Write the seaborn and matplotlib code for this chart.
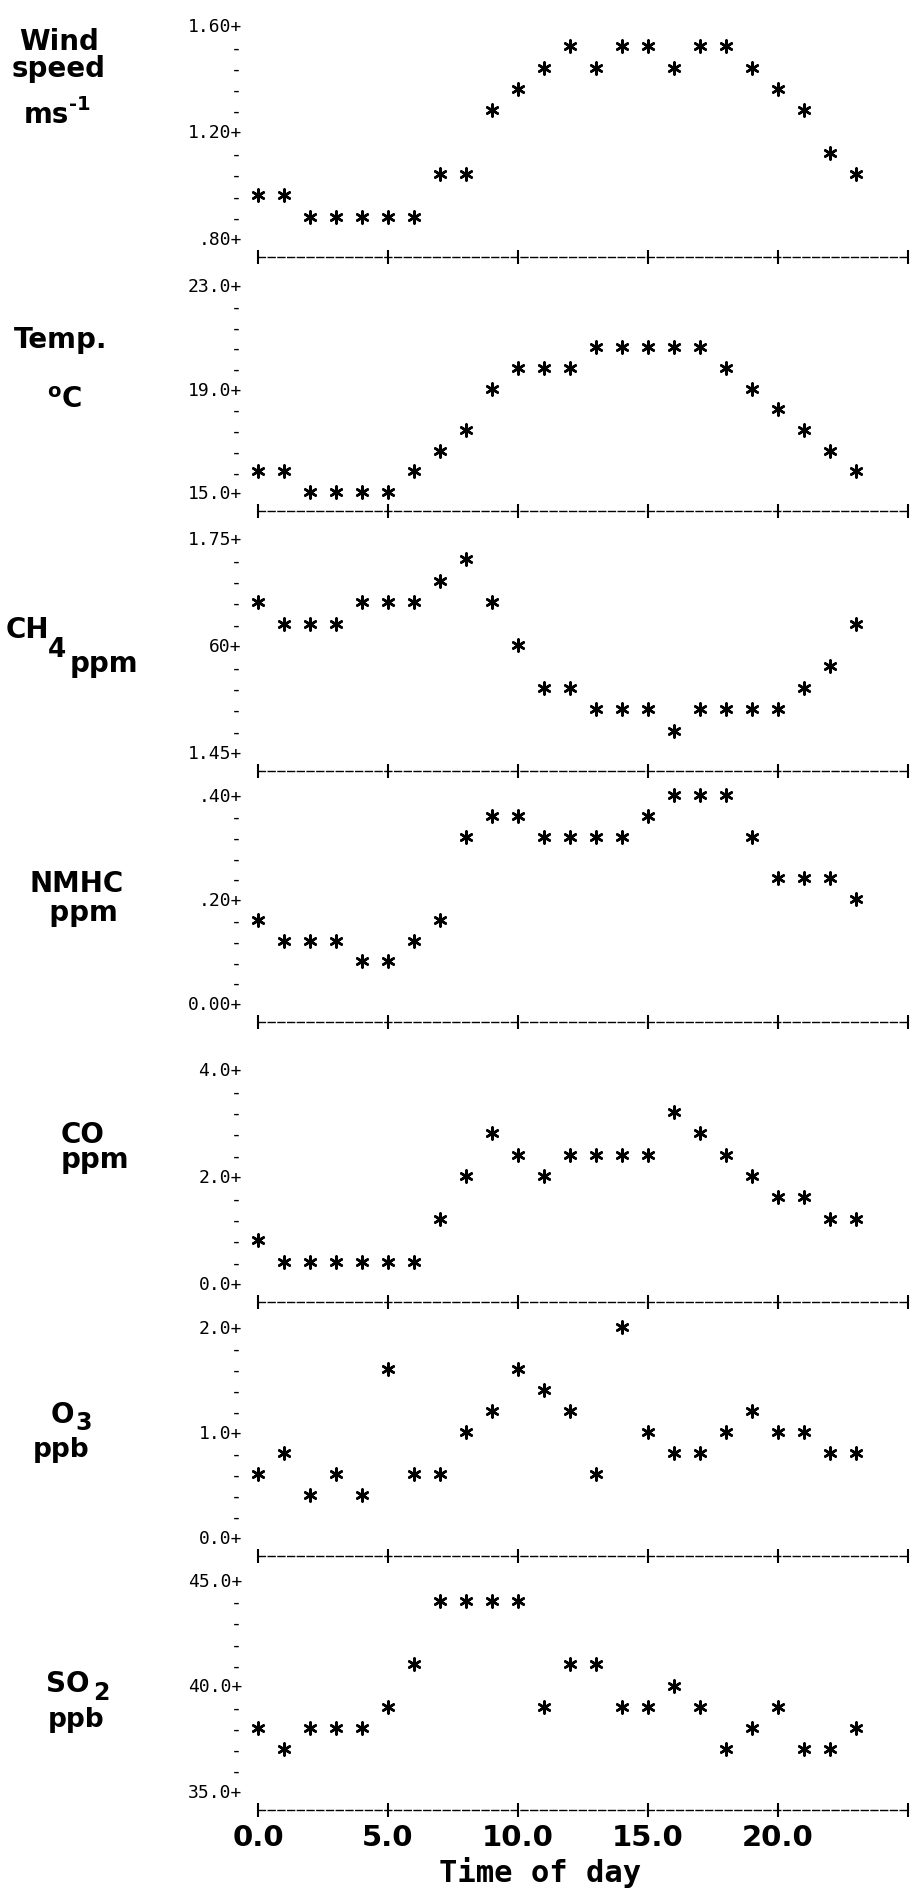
import numpy as np
import pandas as pd
import seaborn as sns
import matplotlib.pyplot as plt

# ---------------------
#   data (hourly means)
# ---------------------
hours = list(range(24))

wind = [0.96, 0.96, 0.88, 0.88, 0.88, 0.88, 0.88, 1.04, 1.04, 1.28, 1.36, 1.44,
        1.52, 1.44, 1.52, 1.52, 1.44, 1.52, 1.52, 1.44, 1.36, 1.28, 1.12, 1.04]
temp = [15.8, 15.8, 15.0, 15.0, 15.0, 15.0, 15.8, 16.6, 17.4, 19.0, 19.8, 19.8,
        19.8, 20.6, 20.6, 20.6, 20.6, 20.6, 19.8, 19.0, 18.2, 17.4, 16.6, 15.8]
ch4 = [1.66, 1.63, 1.63, 1.63, 1.66, 1.66, 1.66, 1.69, 1.72, 1.66, 1.60, 1.54,
       1.54, 1.51, 1.51, 1.51, 1.48, 1.51, 1.51, 1.51, 1.51, 1.54, 1.57, 1.63]
nmhc = [0.16, 0.12, 0.12, 0.12, 0.08, 0.08, 0.12, 0.16, 0.32, 0.36, 0.36, 0.32,
        0.32, 0.32, 0.32, 0.36, 0.40, 0.40, 0.40, 0.32, 0.24, 0.24, 0.24, 0.20]
co = [0.8, 0.4, 0.4, 0.4, 0.4, 0.4, 0.4, 1.2, 2.0, 2.8, 2.4, 2.0,
      2.4, 2.4, 2.4, 2.4, 3.2, 2.8, 2.4, 2.0, 1.6, 1.6, 1.2, 1.2]
o3 = [0.6, 0.8, 0.4, 0.6, 0.4, 1.6, 0.6, 0.6, 1.0, 1.2, 1.6, 1.4,
      1.2, 0.6, 2.0, 1.0, 0.8, 0.8, 1.0, 1.2, 1.0, 1.0, 0.8, 0.8]
so2 = [38, 37, 38, 38, 38, 39, 41, 44, 44, 44, 44, 39,
       41, 41, 39, 39, 40, 39, 37, 38, 39, 37, 37, 38]

# y scale of each panel: lowest printed value, step between rows, printed labels
y_lo = [0.80, 15.0, 1.45, 0.0, 0.0, 0.0, 35.0]
y_step = [0.08, 0.8, 0.03, 0.04, 0.4, 0.2, 1.0]
y_labels = [(".80+", "1.20+", "1.60+"),
            ("15.0+", "19.0+", "23.0+"),
            ("1.45+", "60+", "1.75+"),
            ("0.00+", ".20+", ".40+"),
            ("0.0+", "2.0+", "4.0+"),
            ("0.0+", "1.0+", "2.0+"),
            ("35.0+", "40.0+", "45.0+")]
x_ticks = [0, 5, 10, 15, 20, 25]
x_labels = ["0.0", "5.0", "10.0", "15.0", "20.0", ""]

series = [wind, temp, ch4, nmhc, co, o3, so2]

# ---------------------
#   layout (pixels)
# ---------------------
W, H = 912, 1893
panel_px = [(25, 238), (285, 492), (538, 752), (795, 1003),
            (1069, 1283), (1327, 1537), (1580, 1791)]
AX_LEFT, X0, PX_HOUR = 242, 258, 26.0

sns.set_style("white")
plt.rcParams["font.family"] = ["DejaVu Sans"]
plt.rcParams["mathtext.default"] = "bf"
for k in ["text.color", "axes.labelcolor", "xtick.color", "ytick.color"]:
    plt.rcParams[k] = "black"

fig = plt.figure(figsize=(W / 100, H / 100), dpi=100)


def px_axes(left, top, right, bottom):
    return fig.add_axes([left / W, 1 - bottom / H, (right - left) / W, (bottom - top) / H])


axes = []
for i, vals in enumerate(series):
    yt, yl = panel_px[i]
    row = (yl - yt) / 10
    ax = px_axes(AX_LEFT, yt - 0.5 * row, W, yl + 0.9 * row)
    df = pd.DataFrame({"hour": hours, "value": vals})
    sns.scatterplot(data=df, x="hour", y="value", ax=ax, marker=(6, 2, 0),
                    s=75, color="black", linewidth=1.8, legend=False, zorder=3)
    lo, st = y_lo[i], y_step[i]
    ax.set_xlim((AX_LEFT - X0) / PX_HOUR, (W - X0) / PX_HOUR)
    ax.set_ylim(lo - 0.9 * st, lo + 10.5 * st)

    ticks = [lo + k * st for k in range(11)]
    labs = ["-"] * 11
    labs[0], labs[5], labs[10] = y_labels[i]
    ax.set_yticks(ticks)
    ax.set_yticklabels(labs, family="DejaVu Sans Mono", fontsize=13)
    ax.tick_params(axis="y", left=False, length=0, pad=0)

    for s in ["top", "right", "left"]:
        ax.spines[s].set_visible(False)
    ax.spines["bottom"].set_linestyle((0, (5, 2)))
    ax.spines["bottom"].set_linewidth(1.0)
    ax.spines["bottom"].set_color("black")
    ax.spines["bottom"].set_bounds(0, 25)
    ax.set_xticks(x_ticks)
    ax.tick_params(axis="x", bottom=True, direction="inout", length=10, width=1.5,
                   color="black", labelbottom=False)
    ax.set_xlabel("")
    ax.set_ylabel("")
    ax.patch.set_alpha(0)
    axes.append(ax)

last = axes[-1]
last.set_xticklabels(x_labels, fontsize=21, fontweight="bold")
last.tick_params(axis="x", labelbottom=True, pad=5)

fig.text(540 / W, 1 - 1872 / H, "Time of day", ha="center", va="center",
         family="DejaVu Sans Mono", fontweight="bold", fontsize=22)


def label(x, y, s, size=20, ha="center", **kw):
    # y is the baseline of the last line, in pixels from the top
    fig.text(x / W, 1 - y / H, s, ha=ha, va="baseline",
             fontsize=size, fontweight="bold", **kw)


# panel names at left
label(59, 77, "Wind\nspeed", 20, linespacing=0.95)
label(46, 123, "ms")
label(80, 110, "-1", 14)

label(61, 348, "Temp.")
label(54, 397, "o", 14)
label(72, 407, "C")

label(27, 638, "CH")
label(57, 657, "4", 19)
label(104, 672, "ppm")

label(30, 921, "NMHC\n  ppm", 20, ha="left", linespacing=1.05, multialignment="left")

label(61, 1168, "CO\nppm", 20, ha="left", linespacing=0.85, multialignment="left")

label(62, 1423, "O")
label(84, 1430, "3", 17)
label(61, 1457, "ppb", 19)

label(68, 1692, "SO")
label(101, 1700, "2", 17)
label(76, 1727, "ppb", 19)

fig.savefig("out.png", dpi=100, facecolor="white")
